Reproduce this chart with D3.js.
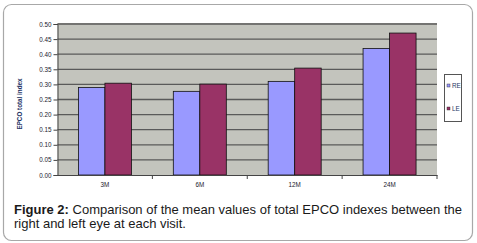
<!DOCTYPE html>
<html lang="en">
<head>
<meta charset="utf-8">
<title>EPCO indexes</title>
<script src="https://cdn.jsdelivr.net/npm/d3@7"></script>
<style>
  body { margin: 0; background: #fff; }
  svg { display: block; font-family: "Liberation Sans", Arial, sans-serif; }
</style>
</head>
<body>
<script>
// data
const visits = ["3M", "6M", "12M", "24M"];
const series = ["RE", "LE"];
const reValues = [0.290, 0.277, 0.310, 0.419];
const leValues = [0.304, 0.301, 0.354, 0.470];
const yTicks = [0, 0.05, 0.10, 0.15, 0.20, 0.25, 0.30, 0.35, 0.40, 0.45, 0.50];
const colors = ["#9999ff", "#993366"];

const w = 477, h = 243;
const plot = { left: 57.5, right: 437, top: 24, bottom: 175 };

const svg = d3.select("body").append("svg")
  .attr("width", w)
  .attr("height", h);

// outer rounded frame
svg.append("rect")
  .attr("x", 3.5).attr("y", 4.5)
  .attr("width", 469).attr("height", 236)
  .attr("rx", 8)
  .attr("fill", "#fff")
  .attr("stroke", "#a8a8a8")
  .attr("stroke-width", 1.2);

const x0 = d3.scaleBand()
  .domain(visits)
  .range([plot.left, plot.right]);

const x1 = d3.scaleBand()
  .domain(series)
  .range([0, x0.bandwidth()])
  .paddingOuter(0.79);

const y = d3.scaleLinear()
  .domain([0, 0.5])
  .range([plot.bottom, plot.top]);

// plot background
svg.append("rect")
  .attr("x", plot.left).attr("y", plot.top - 1)
  .attr("width", plot.right - plot.left)
  .attr("height", plot.bottom - plot.top + 1)
  .attr("fill", "#c3c4bd");

// gridlines
svg.append("g")
  .selectAll("line")
  .data(yTicks.slice(1))
  .join("line")
  .attr("x1", plot.left).attr("x2", plot.right)
  .attr("y1", d => y(d)).attr("y2", d => y(d))
  .attr("stroke", "#5a5a5a")
  .attr("stroke-width", 1.3);

// bars
const rows = visits.map((v, i) => ({ visit: v, vals: [reValues[i], leValues[i]] }));

svg.append("g")
  .selectAll("g")
  .data(rows)
  .join("g")
  .attr("transform", d => `translate(${x0(d.visit)},0)`)
  .selectAll("rect")
  .data(d => d.vals.map((v, j) => ({ key: series[j], value: v, c: colors[j] })))
  .join("rect")
  .attr("x", d => x1(d.key))
  .attr("width", x1.bandwidth())
  .attr("y", d => y(d.value))
  .attr("height", d => y(0) - y(d.value))
  .attr("fill", d => d.c)
  .attr("stroke", "#111")
  .attr("stroke-width", 0.8);

// y axis
const yAxis = d3.axisLeft(y)
  .tickValues(yTicks)
  .tickFormat(d3.format(".2f"))
  .tickSize(4)
  .tickPadding(2);

svg.append("g")
  .attr("transform", `translate(${plot.left},0)`)
  .call(yAxis)
  .call(g => g.select(".domain").attr("stroke", "#444"))
  .call(g => g.selectAll(".tick line").attr("stroke", "#444"))
  .call(g => g.selectAll("text")
    .attr("font-size", 6.3)
    .attr("fill", "#1a1a2e")
    .attr("font-family", "Liberation Sans, Arial, sans-serif"));

// x axis
const xAxis = d3.axisBottom(x0)
  .tickSize(0)
  .tickPadding(8);

svg.append("g")
  .attr("transform", `translate(0,${plot.bottom})`)
  .call(xAxis)
  .call(g => g.select(".domain").attr("stroke", "#444"))
  .call(g => g.selectAll("text")
    .attr("font-size", 6.3)
    .attr("fill", "#1a1a2e")
    .attr("font-family", "Liberation Sans, Arial, sans-serif"));

// category separator ticks
svg.append("g")
  .selectAll("line")
  .data(visits)
  .join("line")
  .attr("x1", d => x0(d) + x0.bandwidth())
  .attr("x2", d => x0(d) + x0.bandwidth())
  .attr("y1", plot.bottom)
  .attr("y2", plot.bottom + 4)
  .attr("stroke", "#444");

// y axis title
svg.append("text")
  .attr("transform", "translate(22,104) rotate(-90)")
  .attr("text-anchor", "middle")
  .attr("font-size", 6.3)
  .attr("font-weight", "bold")
  .attr("fill", "#1f3566")
  .text("EPCO total index");

// legend
const legend = svg.append("g");
legend.append("rect")
  .attr("x", 444.5).attr("y", 74.5)
  .attr("width", 17).attr("height", 47)
  .attr("fill", "#fff")
  .attr("stroke", "#555")
  .attr("stroke-width", 1);

legend.selectAll("g")
  .data(series)
  .join("g")
  .attr("transform", (d, i) => `translate(447,${86 + i * 23})`)
  .call(g => g.append("rect")
    .attr("x", 0).attr("y", -2)
    .attr("width", 3).attr("height", 3)
    .attr("fill", (d, i) => colors[i])
    .attr("stroke", "#222")
    .attr("stroke-width", 0.4))
  .call(g => g.append("text")
    .attr("x", 5).attr("y", 2)
    .attr("font-size", 6.3)
    .attr("fill", "#1f3566")
    .text(d => d));

// caption
const cap = svg.append("text")
  .attr("x", 14)
  .attr("font-size", 13)
  .attr("fill", "#1a1a1a");

const l1 = cap.append("tspan").attr("x", 14).attr("y", 214);
l1.append("tspan").attr("font-weight", "bold").text("Figure 2:");
l1.append("tspan").text(" Comparison of the mean values of total EPCO indexes between the");
cap.append("tspan").attr("x", 14).attr("y", 228)
  .text("right and left eye at each visit.");
</script>
</body>
</html>
